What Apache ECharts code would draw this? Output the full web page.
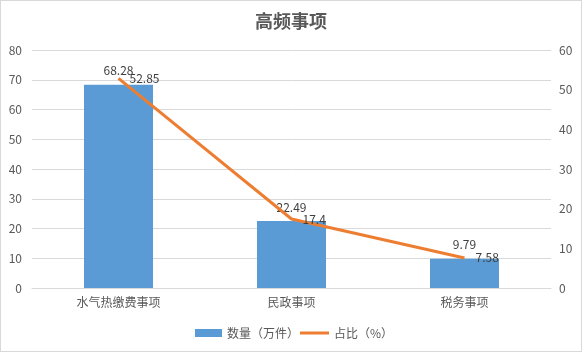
<!DOCTYPE html>
<html>
<head>
<meta charset="utf-8">
<script src="https://cdn.jsdelivr.net/npm/echarts@6/dist/echarts.min.js"></script>
<style>
  html, body { margin: 0; padding: 0; background: #fff; }
  #chart { width: 582px; height: 352px; box-sizing: border-box; border: 1px solid #d9d9d9; }
</style>
</head>
<body>
<div id="chart"></div>
<script>
// 数据
const categories = ['水气热缴费事项', '民政事项', '税务事项']
const countData = [68.28, 22.49, 9.79]   // 数量（万件）
const ratioData = [52.85, 17.4, 7.58]    // 占比（%）

const chart = echarts.init(document.getElementById('chart'))
const font = '"Noto Sans CJK SC", "Noto Sans", sans-serif'

chart.setOption({
  animation: false,
  textStyle: { fontFamily: font },
  title: {
    text: '高频事项',
    left: 'center',
    top: 6,
    textStyle: { fontSize: 18, fontWeight: 'bold', color: '#595959', fontFamily: font }
  },
  // two legends so the line icon can be thinner than the bar icon
  legend: [
    {
      top: 321,
      left: 189,
      itemWidth: 27,
      itemHeight: 8,
      textStyle: { fontSize: 12, color: '#595959' },
      data: [{ name: '数量（万件）', icon: 'rect' }]
    },
    {
      top: 321,
      left: 294,
      itemWidth: 29,
      itemHeight: 3,
      textStyle: { fontSize: 12, color: '#595959' },
      data: [{ name: '占比（%）', icon: 'rect' }]
    }
  ],
  grid: { left: 31, right: 30, top: 49, bottom: 63, containLabel: false },
  xAxis: {
    type: 'category',
    data: categories,
    axisTick: { show: false },
    axisLine: { lineStyle: { color: '#d9d9d9' } },
    axisLabel: { color: '#595959', fontSize: 12, margin: 8 }
  },
  yAxis: [
    {
      type: 'value',
      min: 0,
      max: 80,
      interval: 10,
      axisLabel: { color: '#595959', fontSize: 12, margin: 10 },
      splitLine: { lineStyle: { color: '#d9d9d9' } }
    },
    {
      type: 'value',
      min: 0,
      max: 60,
      interval: 10,
      axisLabel: { color: '#595959', fontSize: 12, margin: 8 },
      splitLine: { show: false }
    }
  ],
  series: [
    {
      name: '数量（万件）',
      type: 'bar',
      barWidth: 69,
      itemStyle: { color: '#5b9bd5' },
      label: { show: true, position: 'top', distance: 8, color: '#404040', fontSize: 12 },
      data: countData
    },
    {
      name: '占比（%）',
      type: 'line',
      yAxisIndex: 1,
      symbol: 'circle',
      symbolSize: 0,
      lineStyle: { color: '#ed7d31', width: 3 },
      itemStyle: { color: '#ed7d31' },
      label: { show: true, position: 'right', distance: 11, color: '#404040', fontSize: 12 },
      data: ratioData
    }
  ]
})
</script>
</body>
</html>
